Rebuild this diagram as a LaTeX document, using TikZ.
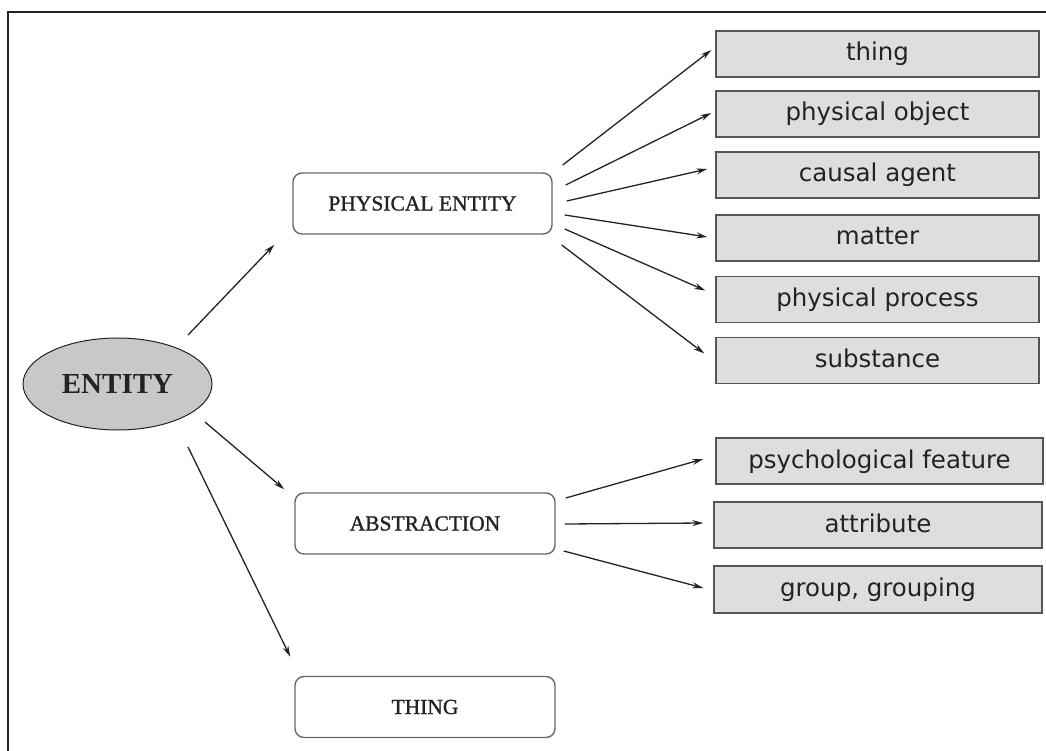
\documentclass[tikz,border=0pt]{standalone}
\usepackage{fontspec}
\setmainfont{Liberation Serif}
\newfontfamily\dvs{DejaVu Sans}
\newfontfamily\midserif[FakeBold=1.2]{Liberation Serif}
\usetikzlibrary{arrows.meta,shapes.geometric}
\definecolor{boxfill}{RGB}{221,222,224}
\definecolor{ellfill}{RGB}{200,200,202}
\definecolor{ink}{RGB}{35,35,35}
\begin{document}
\begin{tikzpicture}[x=1pt,y=-1pt,
  leaf/.style={draw={rgb,255:red,85;green,85;blue,85},line width=1.4pt,fill=boxfill,
    minimum width=323pt,minimum height=46pt,inner sep=0pt,text=ink,
    font=\dvs\fontsize{24.5}{28}\selectfont,text height=18pt,text depth=4pt},
  midbox/.style={draw={rgb,255:red,105;green,105;blue,105},line width=1.4pt,rounded corners=9pt,
    minimum width=260pt,minimum height=61pt,inner sep=0pt,text=ink,
    font=\midserif\fontsize{21.5}{24}\selectfont},
  arr/.style={draw=ink,line width=1.3pt,-{Stealth[length=11pt,width=6pt]}}]
\useasboundingbox (0,0) rectangle (1046,751);
% frame
\draw[line width=2pt,draw=ink] (8,751) coordinate (fbl) -- (8,12) coordinate (ftl) -- (1046,12) coordinate (ftr);
% root
\node[ellipse,draw=ink,line width=1pt,fill=ellfill,minimum width=189pt,minimum height=92pt,inner sep=0pt,
  text=ink,font=\bfseries\fontsize{29}{32}\selectfont] (en) at (117.5,384) {ENTITY};
% middle boxes
\node[midbox,minimum width=259pt] (pe) at (422.5,203.5) {PHYSICAL ENTITY};
\node[midbox] (ab) at (425,523.5) {ABSTRACTION};
\node[midbox] (th) at (425,707) {THING};
% leaves
\node[leaf] (r1) at (877.5,54) {thing};
\node[leaf] (r2) at (877.5,114) {physical object};
\node[leaf] (r3) at (877.5,175) {causal agent};
\node[leaf] (r4) at (877.5,238) {matter};
\node[leaf] (r5) at (877.5,299.5) {physical process};
\node[leaf] (r6) at (877.5,360.5) {substance};
\node[leaf,minimum width=327pt] (a1) at (879.5,461) {psychological feature};
\node[leaf,minimum width=328pt] (a2) at (878,525) {attribute};
\node[leaf,minimum width=328pt,minimum height=47pt] (a3) at (878,589.5) {group, grouping};
% root arrows
\draw[arr] ([shift={(70.5,-49)}]en.center) -- ([shift={(-18,10)}]pe.south west);
\draw[arr] ([shift={(87.5,38)}]en.center) -- ([shift={(-10,-3)}]ab.north west);
\draw[arr] ([shift={(70.5,63)}]en.center) -- ([shift={(-4,-19)}]th.north west);
% physical entity arrows
\draw[arr] ([shift={(10,-38.5)}]pe.east) -- ([shift={(-4,-4)}]r1.west);
\draw[arr] ([shift={(13,-18.5)}]pe.east) -- ([shift={(-4,-1)}]r2.west);
\draw[arr] ([shift={(14,-2.5)}]pe.east) -- ([shift={(-8,-6)}]r3.west);
\draw[arr] ([shift={(12,11.5)}]pe.east) -- ([shift={(-8,-1)}]r4.west);
\draw[arr] ([shift={(12,25.5)}]pe.east) -- ([shift={(-10,-9)}]r5.west);
\draw[arr] ([shift={(9,41.5)}]pe.east) -- ([shift={(-11,-7)}]r6.west);
% abstraction arrows
\draw[arr] ([shift={(10,-25.5)}]ab.east) -- ([shift={(-12,-2)}]a1.west);
\draw[arr] ([shift={(9,0.5)}]ab.east) -- ([shift={(-10,-2)}]a2.west);
\draw[arr] ([shift={(8,27.5)}]ab.east) -- ([shift={(-10,-1.5)}]a3.west);
\end{tikzpicture}
\end{document}
